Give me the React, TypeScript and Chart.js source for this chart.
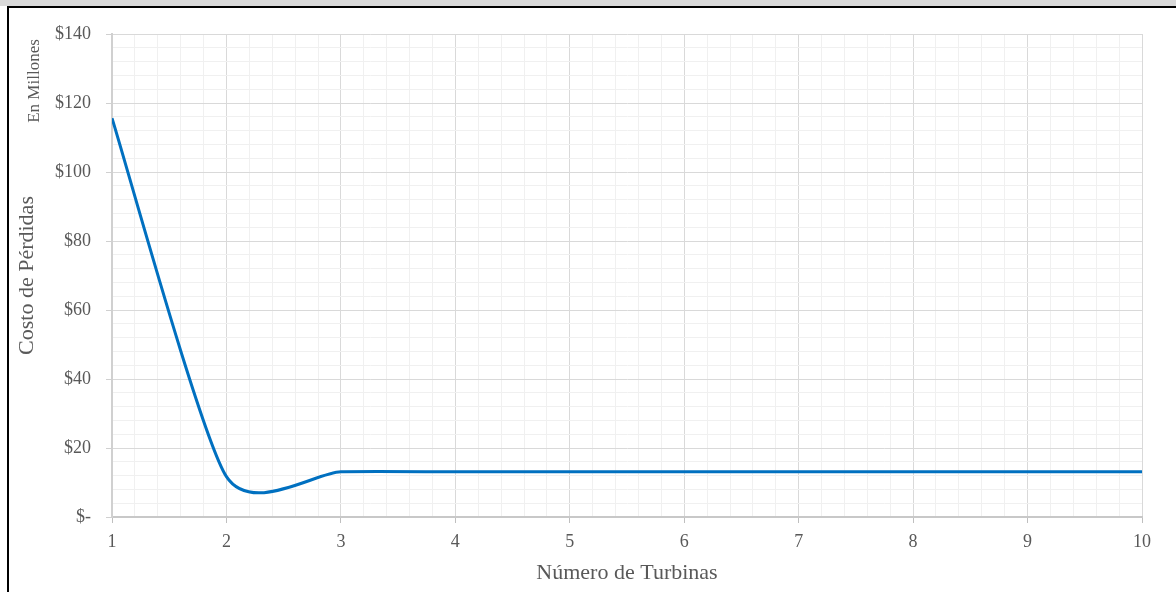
import React, { useEffect, useRef } from 'react';
import { Chart, registerables } from 'chart.js';

Chart.register(...registerables);

// ---- data ----
const turbines = [1, 2, 3, 4, 5, 6, 7, 8, 9, 10];
const lossCost = [115.6, 11.7, 13.1, 13.1, 13.1, 13.1, 13.1, 13.1, 13.1, 13.1];
const xTitle = 'Número de Turbinas';
const yTitle = 'Costo de Pérdidas';
const unitNote = 'En Millones';
const yMajorStep = 20;
const yMinorStep = 4;
const xMinorStep = 0.2;

const FONT = "'Liberation Serif', 'Times New Roman', serif";
const TEXT = '#595959';

const isMajorX = (v: number) => Math.abs(v - Math.round(v)) < 1e-6;
const isMajorY = (v: number) => Math.abs(v / yMajorStep - Math.round(v / yMajorStep)) < 1e-6;

// Excel-like smoothing: uniform Catmull-Rom style control points
const smoothPlugin = {
  id: 'excelSmooth',
  beforeDatasetDraw(chart: any, args: any) {
    const meta = args.meta;
    const line: any = meta.dataset;
    const pts: any[] = meta.data;
    if (!line || !pts || !pts.length) return;
    if (typeof line.updateControlPoints === 'function') {
      line.updateControlPoints(chart.chartArea, 'x');
    }
    const f = 0.11;
    for (let i = 0; i < pts.length; i++) {
      const p = pts[i];
      const prev = pts[i - 1] || p;
      const next = pts[i + 1] || p;
      const dx = next.x - prev.x;
      const dy = next.y - prev.y;
      p.cp1x = p.x - f * dx;
      p.cp1y = p.y - f * dy;
      p.cp2x = p.x + f * dx;
      p.cp2y = p.y + f * dy;
    }
    line._path = undefined;
  },
};

const notePlugin = {
  id: 'unitNote',
  afterDraw(chart: any) {
    const ctx = chart.ctx;
    ctx.save();
    ctx.translate(35, chart.chartArea.top + 47);
    ctx.rotate(-Math.PI / 2);
    ctx.font = `17px ${FONT}`;
    ctx.fillStyle = TEXT;
    ctx.textAlign = 'center';
    ctx.textBaseline = 'middle';
    ctx.fillText(unitNote, 0, 0);
    ctx.restore();
  },
};

export default function App() {
  const ref = useRef<HTMLCanvasElement | null>(null);

  useEffect(() => {
    if (!ref.current) return;
    const chart = new Chart(ref.current, {
      type: 'line',
      data: {
        datasets: [
          {
            label: yTitle,
            data: turbines.map((x, i) => ({ x, y: lossCost[i] })),
            borderColor: '#0070C0',
            backgroundColor: '#0070C0',
            borderWidth: 3,
            pointRadius: 0,
            pointHoverRadius: 0,
            tension: 0.4,
            fill: false,
          },
        ],
      },
      options: {
        responsive: false,
        animation: false,
        devicePixelRatio: 1,
        events: [],
        layout: { padding: { left: 0, top: 34, right: 34, bottom: 0 } },
        plugins: {
          legend: { display: false },
          tooltip: { enabled: false },
        },
        scales: {
          x: {
            type: 'linear',
            min: 1,
            max: 10,
            afterFit: (s: any) => {
              s.height = 75;
            },
            ticks: {
              stepSize: xMinorStep,
              maxTicksLimit: 100,
              autoSkip: false,
              maxRotation: 0,
              padding: 8,
              color: TEXT,
              font: { family: FONT, size: 18 },
              callback: (v: any) => (isMajorX(Number(v)) ? String(Math.round(Number(v))) : ''),
            },
            grid: {
              color: (c: any) => (c.tick && isMajorX(c.tick.value) ? '#d9d9d9' : '#f0f0f0'),
              tickColor: (c: any) => (c.tick && isMajorX(c.tick.value) ? '#bfbfbf' : 'rgba(0,0,0,0)'),
              tickLength: 6,
              lineWidth: 1,
            },
            border: { color: '#c8c8c8', width: 2 },
            title: {
              display: true,
              text: xTitle,
              color: TEXT,
              font: { family: FONT, size: 22 },
              padding: { top: 0, bottom: 6 },
            },
          },
          y: {
            type: 'linear',
            min: 0,
            max: 140,
            afterFit: (s: any) => {
              s.width = 112;
            },
            ticks: {
              stepSize: yMinorStep,
              maxTicksLimit: 100,
              autoSkip: false,
              padding: 15,
              color: TEXT,
              font: { family: FONT, size: 18 },
              callback: (v: any) => {
                const n = Number(v);
                if (!isMajorY(n)) return '';
                return n === 0 ? '$-' : '$' + Math.round(n);
              },
            },
            grid: {
              color: (c: any) => (c.tick && isMajorY(c.tick.value) ? '#d9d9d9' : '#f0f0f0'),
              tickColor: (c: any) => (c.tick && isMajorY(c.tick.value) ? '#d0d0d0' : 'rgba(0,0,0,0)'),
              tickLength: 6,
              lineWidth: 1,
            },
            border: { color: '#d0d0d0', width: 2 },
            title: {
              display: true,
              text: yTitle,
              color: TEXT,
              font: { family: FONT, size: 22 },
              padding: { top: 14.5, bottom: 0 },
            },
          },
        },
      },
      plugins: [smoothPlugin, notePlugin],
    } as any);
    return () => chart.destroy();
  }, []);

  return (
    <>
      <div
        style={{
          position: 'absolute',
          left: 0,
          top: 0,
          width: 1176,
          height: 592,
          background: '#ffffff',
          overflow: 'hidden',
        }}
      >
        <div style={{ position: 'absolute', left: 0, top: 0, width: 1176, height: 6, background: '#d9d9d9' }} />
        <div
          style={{
            position: 'absolute',
            left: 7,
            top: 6,
            width: 1169,
            height: 586,
            boxSizing: 'border-box',
            borderLeft: '2px solid #000',
            borderTop: '2px solid #000',
          }}
        />
        <canvas
          ref={ref}
          width={1176}
          height={592}
          style={{ position: 'absolute', left: 0, top: 0, width: 1176, height: 592 }}
        />
      </div>
    </>
  );
}
